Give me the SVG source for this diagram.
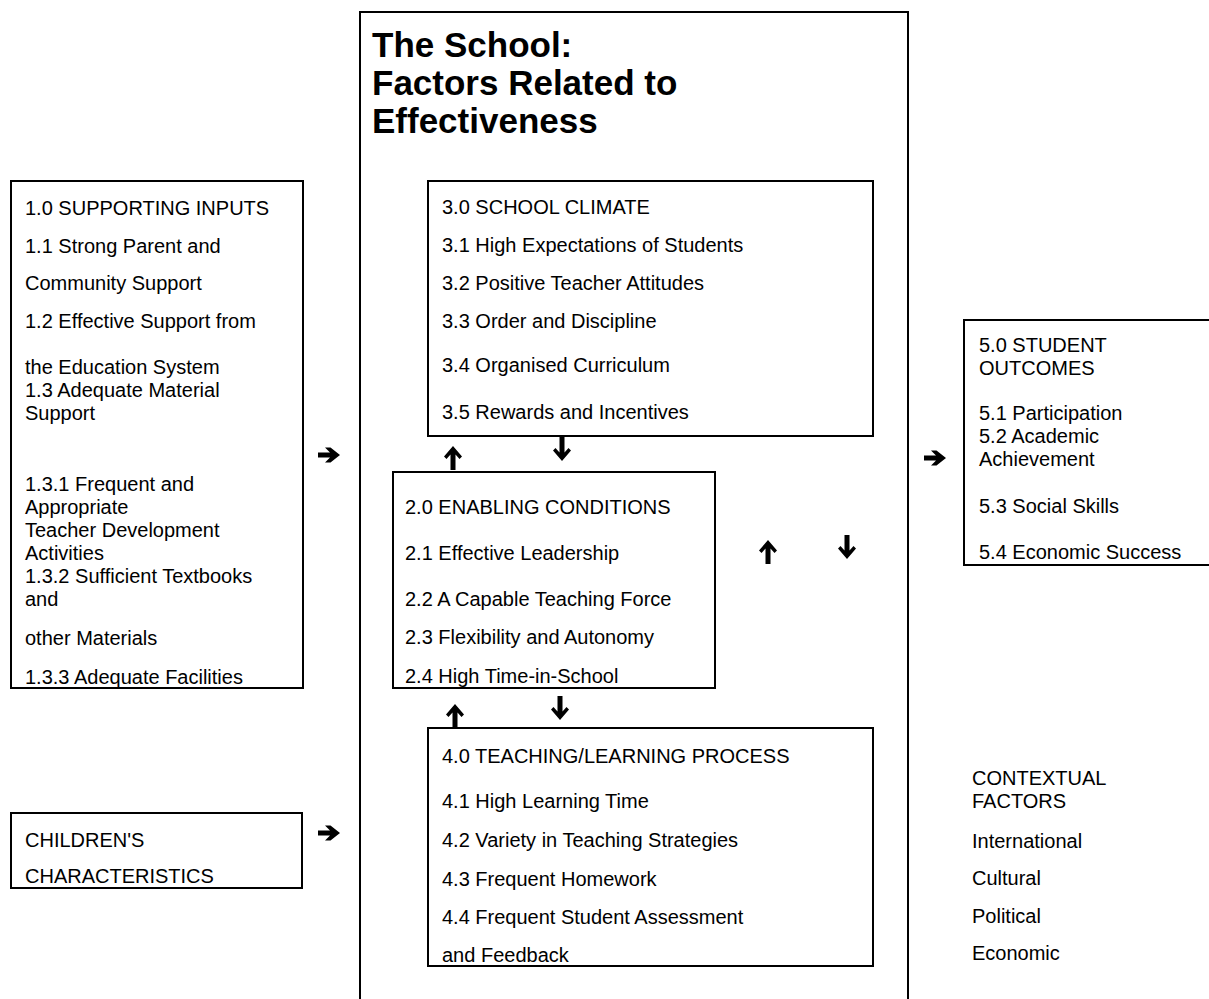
<svg xmlns="http://www.w3.org/2000/svg" width="1209" height="999" viewBox="0 0 1209 999">
<style>
.box{fill:#fff;stroke:#000;stroke-width:2}
.t{font-family:"Liberation Sans",Arial,sans-serif;font-size:20px;fill:#000}
.title{font-family:"Liberation Sans",Arial,sans-serif;font-size:35px;font-weight:bold;fill:#000}
.ar{fill:#000}
</style>
<defs>
<path id="ra" d="M-11,-2.5 H1 L-4,-7.5 H1.5 L11,0 L1.5,7.5 H-4 L1,2.5 H-11 Z"/>
<path id="ua" d="M0,-12 L9,-1.5 L6.5,1 L2.5,-3.5 V12 H-2.5 V-3.5 L-6.5,1 L-9,-1.5 Z"/>
</defs>
<rect width="1209" height="999" fill="#fff"/>
<g id="school">
<path d="M360,999 V12 H908 V999" fill="none" stroke="#000" stroke-width="2"/>
<text class="title" x="372" y="57">The School:</text>
<text class="title" x="372" y="95">Factors Related to</text>
<text class="title" x="372" y="133">Effectiveness</text>
</g>
<g id="supporting-inputs">
<rect class="box" x="11" y="181" width="292" height="507"/>
<text class="t" x="25" y="215">1.0 SUPPORTING INPUTS</text>
<text class="t" x="25" y="253">1.1 Strong Parent and</text>
<text class="t" x="25" y="290">Community Support</text>
<text class="t" x="25" y="328">1.2 Effective Support from</text>
<text class="t" x="25" y="374">the Education System</text>
<text class="t" x="25" y="397">1.3 Adequate Material</text>
<text class="t" x="25" y="420">Support</text>
<text class="t" x="25" y="491">1.3.1 Frequent and</text>
<text class="t" x="25" y="514">Appropriate</text>
<text class="t" x="25" y="537">Teacher Development</text>
<text class="t" x="25" y="560">Activities</text>
<text class="t" x="25" y="583">1.3.2 Sufficient Textbooks</text>
<text class="t" x="25" y="606">and</text>
<text class="t" x="25" y="645">other Materials</text>
<text class="t" x="25" y="684">1.3.3 Adequate Facilities</text>
</g>
<g id="school-climate">
<rect class="box" x="428" y="181" width="445" height="255"/>
<text class="t" x="442" y="214">3.0 SCHOOL CLIMATE</text>
<text class="t" x="442" y="252">3.1 High Expectations of Students</text>
<text class="t" x="442" y="290">3.2 Positive Teacher Attitudes</text>
<text class="t" x="442" y="328">3.3 Order and Discipline</text>
<text class="t" x="442" y="372">3.4 Organised Curriculum</text>
<text class="t" x="442" y="419">3.5 Rewards and Incentives</text>
</g>
<g id="enabling-conditions">
<rect class="box" x="393" y="472" width="322" height="216"/>
<text class="t" x="405" y="514">2.0 ENABLING CONDITIONS</text>
<text class="t" x="405" y="560">2.1 Effective Leadership</text>
<text class="t" x="405" y="606">2.2 A Capable Teaching Force</text>
<text class="t" x="405" y="644">2.3 Flexibility and Autonomy</text>
<text class="t" x="405" y="683">2.4 High Time-in-School</text>
</g>
<g id="teaching-learning">
<rect class="box" x="428" y="728" width="445" height="238"/>
<text class="t" x="442" y="763">4.0 TEACHING/LEARNING PROCESS</text>
<text class="t" x="442" y="808">4.1 High Learning Time</text>
<text class="t" x="442" y="847">4.2 Variety in Teaching Strategies</text>
<text class="t" x="442" y="886">4.3 Frequent Homework</text>
<text class="t" x="442" y="924">4.4 Frequent Student Assessment</text>
<text class="t" x="442" y="962">and Feedback</text>
</g>
<g id="student-outcomes">
<rect class="box" x="964" y="320" width="250" height="245"/>
<text class="t" x="979" y="352">5.0 STUDENT</text>
<text class="t" x="979" y="375">OUTCOMES</text>
<text class="t" x="979" y="420">5.1 Participation</text>
<text class="t" x="979" y="443">5.2 Academic</text>
<text class="t" x="979" y="466">Achievement</text>
<text class="t" x="979" y="513">5.3 Social Skills</text>
<text class="t" x="979" y="559">5.4 Economic Success</text>
</g>
<g id="children">
<rect class="box" x="11" y="813" width="291" height="75"/>
<text class="t" x="25" y="847">CHILDREN'S</text>
<text class="t" x="25" y="883">CHARACTERISTICS</text>
</g>
<g id="contextual-factors">
<text class="t" x="972" y="785">CONTEXTUAL</text>
<text class="t" x="972" y="808">FACTORS</text>
<text class="t" x="972" y="848">International</text>
<text class="t" x="972" y="885">Cultural</text>
<text class="t" x="972" y="923">Political</text>
<text class="t" x="972" y="960">Economic</text>
</g>
<g id="connectors" class="ar">
<use href="#ra" x="329" y="455"/>
<use href="#ra" x="329" y="833"/>
<use href="#ra" x="935" y="458"/>
<use href="#ua" x="453" y="458"/>
<use href="#ua" transform="translate(562,449) rotate(180)"/>
<use href="#ua" x="768" y="552"/>
<use href="#ua" transform="translate(847,547) rotate(180)"/>
<use href="#ua" x="455" y="716"/>
<use href="#ua" transform="translate(560,708) rotate(180)"/>
</g>
</svg>
